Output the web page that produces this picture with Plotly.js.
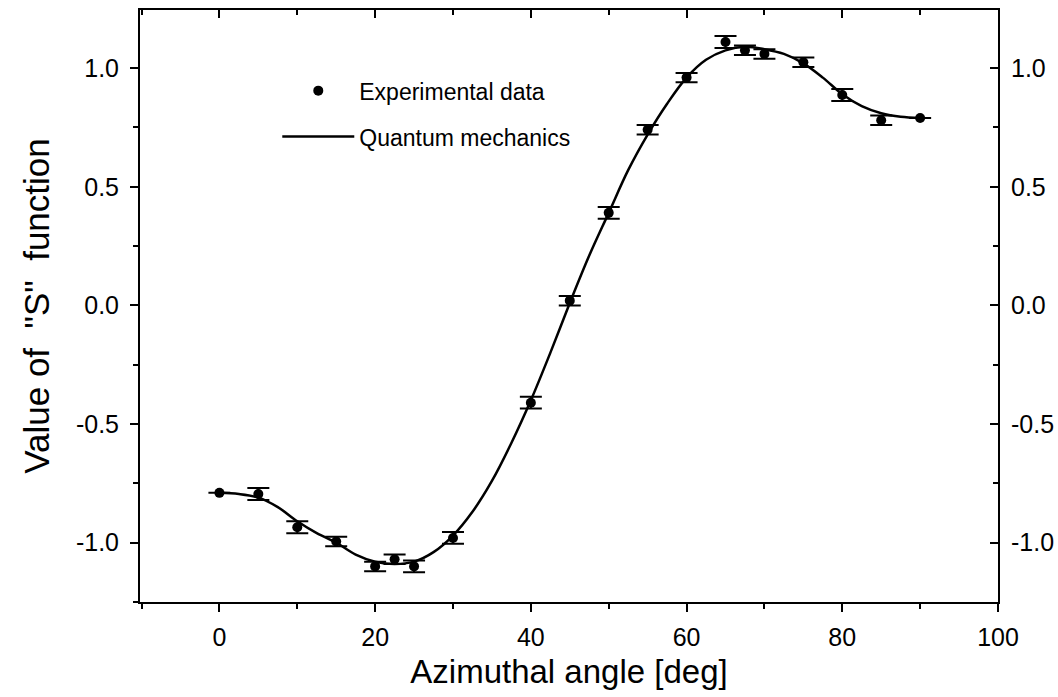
<!DOCTYPE html>
<html>
<head>
<meta charset="utf-8">
<script src="https://cdn.plot.ly/plotly-3.0.1.min.js"></script>
<style>html,body{margin:0;padding:0;background:#fff;}#chart{width:1058px;height:697px;}</style>
</head>
<body>
<div id="chart"></div>
<script>
// Experimental data
var expAngle = [0, 5, 10, 15, 20, 22.5, 25, 30, 40, 45, 50, 55, 60, 65, 67.5, 70, 75, 80, 85, 90];
var expS = [-0.79, -0.795, -0.935, -0.995, -1.10, -1.07, -1.10, -0.98, -0.41, 0.02, 0.39, 0.74, 0.96, 1.11, 1.075, 1.06, 1.025, 0.887, 0.78, 0.79];
var expErr = [0, 0.025, 0.025, 0.02, 0.02, 0.02, 0.025, 0.025, 0.025, 0.02, 0.025, 0.02, 0.02, 0.025, 0.02, 0.02, 0.02, 0.025, 0.02, 0];

// Quantum mechanics curve
var qmAngle = [0, 2.5, 5, 7.5, 10, 12.5, 15, 17.5, 20, 22.5, 25, 27.5, 30, 32.5, 35, 37.5, 40, 42.5, 45, 47.5, 50, 52.5, 55, 57.5, 60, 62.5, 65, 67.5, 70, 72.5, 75, 77.5, 80, 82.5, 85, 87.5, 90];
var qmS = [-0.79, -0.795, -0.81, -0.85, -0.91, -0.96, -1.00, -1.05, -1.08, -1.09, -1.08, -1.04, -0.97, -0.87, -0.74, -0.58, -0.40, -0.20, 0.01, 0.21, 0.39, 0.57, 0.72, 0.85, 0.96, 1.035, 1.075, 1.09, 1.08, 1.06, 1.02, 0.96, 0.89, 0.84, 0.81, 0.795, 0.79];

// Tick labels
var xTickVals = [0, 20, 40, 60, 80, 100];
var xTickText = ["0", "20", "40", "60", "80", "100"];
var yTickVals = [-1.0, -0.5, 0.0, 0.5, 1.0];
var yTickText = ["-1.0", "-0.5", "0.0", "0.5", "1.0"];
var xMinorVals = [-10, 10, 30, 50, 70, 90];
var yMinorVals = [-1.25, -0.75, -0.25, 0.25, 0.75, 1.25];

var FONT = "Liberation Sans, Arial, Helvetica, sans-serif";
var xRange = [-10.2, 100];
var yRange = [-1.25, 1.245];

var traces = [
  {
    x: expAngle, y: expS, type: "scatter", mode: "markers",
    name: "Experimental data", legendgroup: "a",
    marker: {color: "#000", size: 10, symbol: "circle"},
    error_y: {type: "data", array: expErr, visible: true, color: "#000", thickness: 2, width: 11},
    xaxis: "x", yaxis: "y", hoverinfo: "x+y"
  },
  {
    x: qmAngle, y: qmS, type: "scatter", mode: "lines",
    name: "Quantum mechanics", legendgroup: "b",
    line: {color: "#000", width: 2.5, shape: "spline", smoothing: 1},
    xaxis: "x2", yaxis: "y2", hoverinfo: "x+y"
  }
];

var tickFont = {family: FONT, size: 25, color: "#000"};

var layout = {
  width: 1058, height: 697,
  margin: {l: 140, r: 60, t: 10, b: 95, pad: 0},
  paper_bgcolor: "#fff", plot_bgcolor: "#fff",
  font: {family: FONT, color: "#000"},
  showlegend: true,
  legend: {
    x: 0.16, y: 0.9, xanchor: "left", yanchor: "top",
    bgcolor: "rgba(0,0,0,0)", borderwidth: 0,
    font: {family: FONT, size: 23, color: "#000"},
    traceorder: "grouped", tracegroupgap: 13, itemwidth: 72
  },
  xaxis: {
    range: xRange, showgrid: false, zeroline: false,
    showline: true, linecolor: "#000", linewidth: 2,
    tickmode: "array", tickvals: xTickVals, ticktext: xTickText,
    ticks: "outside", ticklen: 8, tickwidth: 2, tickcolor: "#000",
    minor: {tickmode: "array", tickvals: xMinorVals, ticks: "outside", ticklen: 5, tickwidth: 2, tickcolor: "#000"},
    tickfont: tickFont, ticklabelstandoff: 4,
    title: {text: "Azimuthal angle [deg]", font: {family: FONT, size: 33, color: "#000"}, standoff: 10},
    anchor: "y"
  },
  xaxis2: {
    range: xRange, overlaying: "x", side: "top", anchor: "y",
    showgrid: false, zeroline: false,
    showline: true, linecolor: "#000", linewidth: 2,
    tickmode: "array", tickvals: xTickVals, showticklabels: false,
    ticks: "inside", ticklen: 8, tickwidth: 2, tickcolor: "#000",
    minor: {tickmode: "array", tickvals: xMinorVals, ticks: "inside", ticklen: 5, tickwidth: 2, tickcolor: "#000"}
  },
  yaxis: {
    range: yRange, showgrid: false, zeroline: false,
    showline: true, linecolor: "#000", linewidth: 2,
    tickmode: "array", tickvals: yTickVals, ticktext: yTickText,
    ticks: "outside", ticklen: 8, tickwidth: 2, tickcolor: "#000",
    minor: {tickmode: "array", tickvals: yMinorVals, ticks: "outside", ticklen: 5, tickwidth: 2, tickcolor: "#000"},
    tickfont: tickFont, ticklabelstandoff: 6,
    title: {text: "Value of \u00A0\"S\"\u00A0 function", font: {family: FONT, size: 35, color: "#000"}, standoff: 16},
    anchor: "x"
  },
  yaxis2: {
    range: yRange, overlaying: "y", side: "right", anchor: "x",
    showgrid: false, zeroline: false,
    showline: true, linecolor: "#000", linewidth: 2,
    tickmode: "array", tickvals: yTickVals, ticktext: yTickText,
    ticks: "inside", ticklen: 8, tickwidth: 2, tickcolor: "#000",
    minor: {tickmode: "array", tickvals: yMinorVals, ticks: "inside", ticklen: 5, tickwidth: 2, tickcolor: "#000"},
    tickfont: tickFont, ticklabelstandoff: 6
  }
};

Plotly.newPlot("chart", traces, layout, {displayModeBar: false, responsive: false});
</script>
</body>
</html>
